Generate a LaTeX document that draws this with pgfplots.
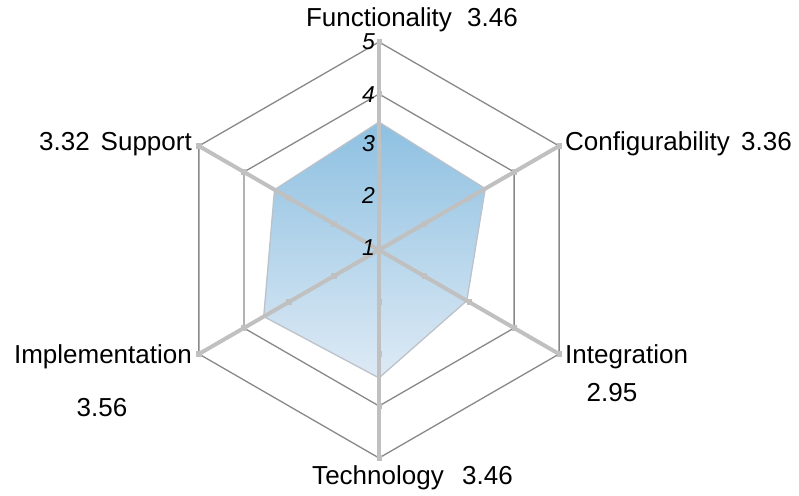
\documentclass[border=0pt]{standalone}
\usepackage{pgfplots}
\pgfplotsset{compat=1.18}
\usepgfplotslibrary{polar}
\usepackage{fontspec}
\setmainfont{Liberation Sans}
\definecolor{spoke}{RGB}{192,192,192}
\definecolor{gridc}{RGB}{136,136,136}
\definecolor{ftop}{RGB}{141,192,225}
\definecolor{fbot}{RGB}{222,234,245}
\definecolor{edge}{RGB}{188,194,202}
\begin{document}
\begin{tikzpicture}[x=1bp,y=1bp]
\useasboundingbox (0,0) rectangle (799,496);
\begin{polaraxis}[at={(379bp,246bp)}, anchor=center, scale only axis,
  width=416bp, height=416bp, xmin=0, xmax=360, ymin=0, ymax=4,
  hide axis, clip=false, y filter/.expression={y-1}]
% grid hexagons
\addplot[gridc, line width=1.3bp, mark=none] coordinates {(90,5) (30,5) (330,5) (270,5) (210,5) (150,5)} -- cycle;
\addplot[gridc, line width=1.3bp, mark=none] coordinates {(90,4) (30,4) (330,4) (270,4) (210,4) (150,4)} -- cycle;
% data polygon
\addplot[draw=edge, line width=1.3bp, top color=ftop, bottom color=fbot, mark=none]
  coordinates {(90,3.46) (30,3.36) (330,2.95) (270,3.46) (210,3.56) (150,3.32)} -- cycle;
% spokes
\addplot[spoke, line width=4bp, mark=none] coordinates {(90,1) (90,5)};
\addplot[spoke, line width=4bp, mark=none] coordinates {(30,1) (30,5)};
\addplot[spoke, line width=4bp, mark=none] coordinates {(330,1) (330,5)};
\addplot[spoke, line width=4bp, mark=none] coordinates {(270,1) (270,5)};
\addplot[spoke, line width=4bp, mark=none] coordinates {(210,1) (210,5)};
\addplot[spoke, line width=4bp, mark=none] coordinates {(150,1) (150,5)};
% tick marks
\addplot[only marks, mark=square*, mark size=2.3bp, color=spoke] coordinates {
 (90,2) (90,3) (90,4) (90,5) (30,2) (30,3) (30,4) (30,5) (330,2) (330,3) (330,4) (330,5)
 (270,2) (270,3) (270,4) (270,5) (210,2) (210,3) (210,4) (210,5) (150,2) (150,3) (150,4) (150,5)};
\end{polaraxis}
% radial scale labels
\begin{scope}[every node/.style={anchor=east, inner sep=0pt, font=\fontsize{23bp}{23bp}\selectfont\itshape}]
\node at (375,248) {1};
\node at (375,301) {2};
\node at (375,352) {3};
\node at (375,401) {4};
\node at (375,454) {5};
\end{scope}
% category labels
\begin{scope}[every node/.style={inner sep=0pt, font=\fontsize{26bp}{30bp}\selectfont}]
\node[anchor=base] at (379,469) {Functionality};
\node[anchor=base west] at (467,469) {3.46};
\node[anchor=base west] at (565,345) {Configurability};
\node[anchor=base west] at (741,345) {3.36};
\node[anchor=base west] at (565,132) {Integration};
\node[anchor=base] at (612,94) {2.95};
\node[anchor=base] at (378,11) {Technology};
\node[anchor=base west] at (462,11) {3.46};
\node[anchor=base east] at (192,132) {Implementation};
\node[anchor=base] at (102,79) {3.56};
\node[anchor=base east] at (192,345) {Support};
\node[anchor=base east] at (90,345) {3.32};
\end{scope}
\end{tikzpicture}
\end{document}
